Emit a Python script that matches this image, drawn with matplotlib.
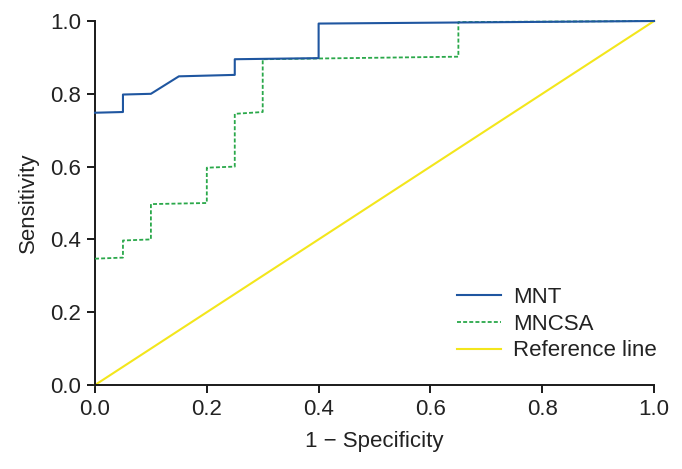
import matplotlib
matplotlib.use("Agg")
import matplotlib.pyplot as plt

# ROC curves (1 - specificity, sensitivity)
mnt_x = [0.0, 0.05, 0.05, 0.10, 0.15, 0.25, 0.25, 0.40, 0.40, 1.0]
mnt_y = [0.748, 0.750, 0.798, 0.800, 0.848, 0.852, 0.895, 0.898, 0.993, 1.0]

mncsa_x = [0.0, 0.05, 0.05, 0.10, 0.10, 0.20, 0.20, 0.25, 0.25, 0.30, 0.30, 0.65, 0.65, 1.0]
mncsa_y = [0.347, 0.350, 0.397, 0.400, 0.497, 0.500, 0.597, 0.600, 0.745, 0.750, 0.895, 0.902, 0.997, 1.0]

ref_x = [0.0, 1.0]
ref_y = [0.0, 1.0]

plt.rcParams['font.family'] = ['Liberation Sans', 'DejaVu Sans']
txt = '#222222'

fig = plt.figure(figsize=(6.82, 4.69), dpi=100)
ax = fig.add_axes([0.1393, 0.1791, 0.8197, 0.7761])

ax.plot(mnt_x, mnt_y, color='#1f56a0', lw=1.5, label='MNT', clip_on=False, zorder=4)
ax.plot(mncsa_x, mncsa_y, color='#2aa84a', lw=1.3, ls=(0, (2.2, 1.2)), label='MNCSA', clip_on=False, zorder=3)
ax.plot(ref_x, ref_y, color='#f3e61c', lw=1.5, label='Reference line', clip_on=False, zorder=2)

ax.set_xlim(0, 1)
ax.set_ylim(0, 1)
ax.set_xticks([0, 0.2, 0.4, 0.6, 0.8, 1.0])
ax.set_yticks([0, 0.2, 0.4, 0.6, 0.8, 1.0])
ax.set_xticklabels(['0.0', '0.2', '0.4', '0.6', '0.8', '1.0'])
ax.set_yticklabels(['0.0', '0.2', '0.4', '0.6', '0.8', '1.0'])
ax.spines['top'].set_visible(False)
ax.spines['right'].set_visible(False)
for s in ['left', 'bottom']:
    ax.spines[s].set_linewidth(1.4)
    ax.spines[s].set_color('#1a1a1a')
ax.tick_params(labelsize=16, colors='#1a1a1a', labelcolor=txt, width=1.4, length=6, pad=4)

ax.set_xlabel('1 \u2212 Specificity', fontsize=16, color=txt, labelpad=8)
ax.set_ylabel('Sensitivity', fontsize=16, color=txt, labelpad=8)

ax.legend(loc='lower right', bbox_to_anchor=(1.041, 0.01), frameon=False, fontsize=16,
          handlelength=2.0, handletextpad=0.55, labelspacing=0.25, labelcolor=txt)

fig.savefig('out.png', dpi=100)
